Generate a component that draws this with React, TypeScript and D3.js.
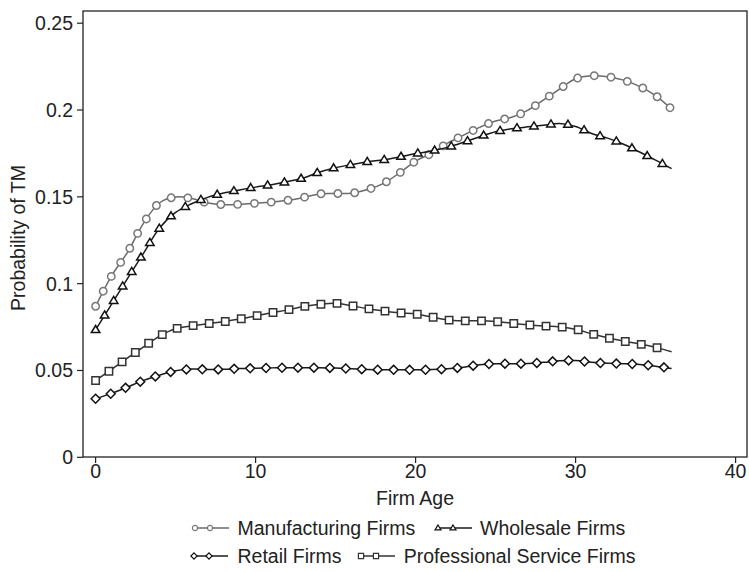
import React, { useEffect, useRef } from "react";
import * as d3 from "d3";

const ages = d3.range(0, 37);

const manufacturing = [
  0.0870, 0.1045, 0.1182, 0.1349, 0.1466, 0.1499, 0.1490, 0.1465, 0.1455, 0.1457,
  0.1463, 0.1470, 0.1480, 0.1497, 0.1517, 0.1519, 0.1521, 0.1542, 0.1578, 0.1638,
  0.1706, 0.1751, 0.1809, 0.1855, 0.1900, 0.1937, 0.1958, 0.1998, 0.2058, 0.2121,
  0.2180, 0.2197, 0.2192, 0.2172, 0.2136, 0.2083, 0.2005,
];
const wholesale = [
  0.0734, 0.0882, 0.1031, 0.1176, 0.1320, 0.1410, 0.1460, 0.1497, 0.1522, 0.1540,
  0.1556, 0.1570, 0.1588, 0.1609, 0.1643, 0.1668, 0.1686, 0.1702, 0.1713, 0.1730,
  0.1749, 0.1764, 0.1785, 0.1814, 0.1846, 0.1875, 0.1892, 0.1903, 0.1912, 0.1922,
  0.1905, 0.1865, 0.1838, 0.1803, 0.1758, 0.1711, 0.1662,
];
const retail = [
  0.0337, 0.0368, 0.0405, 0.0443, 0.0473, 0.0498, 0.0508, 0.0506, 0.0507, 0.0511,
  0.0513, 0.0515, 0.0516, 0.0516, 0.0516, 0.0514, 0.0510, 0.0506, 0.0504, 0.0504,
  0.0504, 0.0505, 0.0510, 0.0519, 0.0533, 0.0539, 0.0539, 0.0540, 0.0547, 0.0556,
  0.0557, 0.0547, 0.0541, 0.0539, 0.0535, 0.0525, 0.0511,
];
const professional = [
  0.0442, 0.0506, 0.0572, 0.0636, 0.0698, 0.0740, 0.0757, 0.0769, 0.0781, 0.0796,
  0.0814, 0.0832, 0.0849, 0.0868, 0.0881, 0.0887, 0.0873, 0.0856, 0.0843, 0.0832,
  0.0825, 0.0808, 0.0791, 0.0786, 0.0786, 0.0782, 0.0772, 0.0763, 0.0756, 0.0751,
  0.0738, 0.0711, 0.0688, 0.0669, 0.0652, 0.0633, 0.0608,
];

const xTicks = [0, 10, 20, 30, 40];
const yTicks = [0, 0.05, 0.1, 0.15, 0.2, 0.25];
const yTickLabels = ["0", "0.05", "0.1", "0.15", "0.2", "0.25"];

const seriesNames = ["Manufacturing Firms", "Wholesale Firms", "Retail Firms", "Professional Service Firms"];
const seriesValues = [manufacturing, wholesale, retail, professional];
const seriesShapes = ["circle", "triangle", "diamond", "square"];
const seriesLineColors = ["#6a6a6a", "#1a1a1a", "#1a1a1a", "#333333"];
const seriesMarkerColors = ["#777777", "#111111", "#111111", "#333333"];
const seriesSpacing = [16.85, 17.1, 15.95, 16.2];

const FONT = "'Liberation Sans', Arial, Helvetica, sans-serif";

function markerPath(shape: string, s: number): string {
  switch (shape) {
    case "circle":
      return d3.symbol(d3.symbolCircle, Math.PI * s * s)();
    case "triangle": {
      const h = s * 1.9;
      const w = s * 2.3;
      return `M0,${-h * 0.62}L${w / 2},${h * 0.38}L${-w / 2},${h * 0.38}Z`;
    }
    case "diamond":
      return `M0,${-s * 1.2}L${s * 1.2},0L0,${s * 1.2}L${-s * 1.2},0Z`;
    case "square":
      return `M${-s},${-s}L${s},${-s}L${s},${s}L${-s},${s}Z`;
  }
  return "";
}

export default function App() {
  const ref = useRef<SVGSVGElement>(null);

  useEffect(() => {
    const svg = d3.select(ref.current);
    svg.selectAll("*").remove();

    const W = 749, H = 572;
    const box = { left: 83, right: 747, top: 11, bottom: 457 };
    const x = d3.scaleLinear().domain([0, 40]).range([95.6, 735.6]);
    const y = d3.scaleLinear().domain([0, 0.25]).range([457.3, 23.2]);

    svg.append("rect").attr("width", W).attr("height", H).attr("fill", "#fff");

    // frame
    svg.append("rect")
      .attr("x", box.left).attr("y", box.top)
      .attr("width", box.right - box.left).attr("height", box.bottom - box.top)
      .attr("fill", "none").attr("stroke", "#222").attr("stroke-width", 1.3);

    // y axis ticks
    const yg = svg.append("g");
    yTicks.forEach((t, i) => {
      yg.append("line").attr("x1", box.left - 6).attr("x2", box.left)
        .attr("y1", y(t)).attr("y2", y(t)).attr("stroke", "#222").attr("stroke-width", 1.2);
      yg.append("text").attr("x", box.left - 10).attr("y", y(t))
        .attr("text-anchor", "end").attr("dominant-baseline", "central")
        .attr("font-family", FONT).attr("font-size", 19.5).attr("fill", "#222")
        .text(yTickLabels[i]);
    });
    // x axis ticks
    xTicks.forEach((t) => {
      svg.append("line").attr("x1", x(t)).attr("x2", x(t))
        .attr("y1", box.bottom).attr("y2", box.bottom + 6).attr("stroke", "#222").attr("stroke-width", 1.2);
      svg.append("text").attr("x", x(t)).attr("y", 471)
        .attr("text-anchor", "middle").attr("dominant-baseline", "central")
        .attr("font-family", FONT).attr("font-size", 19.5).attr("fill", "#222")
        .text(String(t));
    });

    // axis titles
    svg.append("text").attr("x", 415).attr("y", 498)
      .attr("text-anchor", "middle").attr("dominant-baseline", "central")
      .attr("font-family", FONT).attr("font-size", 19.5).attr("fill", "#222").text("Firm Age");
    svg.append("text").attr("transform", "translate(18,238) rotate(-90)")
      .attr("text-anchor", "middle").attr("dominant-baseline", "central")
      .attr("font-family", FONT).attr("font-size", 19.5).attr("fill", "#222").text("Probability of TM");

    const line = d3.line<number>()
      .x((_, i) => x(ages[i]))
      .y((v) => y(v))
      .curve(d3.curveCatmullRom.alpha(0.5));

    seriesValues.forEach((vals, si) => {
      const p = svg.append("path").attr("d", line(vals) as string)
        .attr("fill", "none").attr("stroke", seriesLineColors[si]).attr("stroke-width", 1.5);
      const node = p.node() as SVGPathElement;
      const L = node.getTotalLength();
      const pts: { x: number; y: number }[] = [];
      for (let l = 0; l <= L; l += seriesSpacing[si]) {
        const pt = node.getPointAtLength(l);
        pts.push({ x: pt.x, y: pt.y });
      }
      const mp = markerPath(seriesShapes[si], 3.7);
      svg.append("g").selectAll("path").data(pts).join("path")
        .attr("d", mp)
        .attr("transform", (d) => `translate(${d.x},${d.y})`)
        .attr("fill", "#fff").attr("stroke", seriesMarkerColors[si]).attr("stroke-width", 1.5);
    });

    // legend
    const legendItems = [
      { si: 0, kx: 191, tx: 237.5, cy: 528 },
      { si: 1, kx: 434, tx: 480, cy: 528 },
      { si: 2, kx: 190, tx: 237.5, cy: 556 },
      { si: 3, kx: 357, tx: 403.7, cy: 556 },
    ];
    legendItems.forEach((it) => {
      const g = svg.append("g");
      g.append("line").attr("x1", it.kx + 2).attr("x2", it.kx + 38).attr("y1", it.cy).attr("y2", it.cy)
        .attr("stroke", seriesLineColors[it.si]).attr("stroke-width", 1.5);
      [it.kx + 4, it.kx + 19].forEach((mx) => {
        g.append("path").attr("d", markerPath(seriesShapes[it.si], 2.6))
          .attr("transform", `translate(${mx},${it.cy})`)
          .attr("fill", "#fff").attr("stroke", seriesMarkerColors[it.si]).attr("stroke-width", 1.2);
      });
      g.append("text").attr("x", it.tx).attr("y", it.cy)
        .attr("dominant-baseline", "central")
        .attr("font-family", FONT).attr("font-size", 19.5).attr("fill", "#222")
        .text(seriesNames[it.si]);
    });
  }, []);

  return (
    <svg ref={ref} width={749} height={572} style={{ position: "absolute", left: 0, top: 0 }} />
  );
}
